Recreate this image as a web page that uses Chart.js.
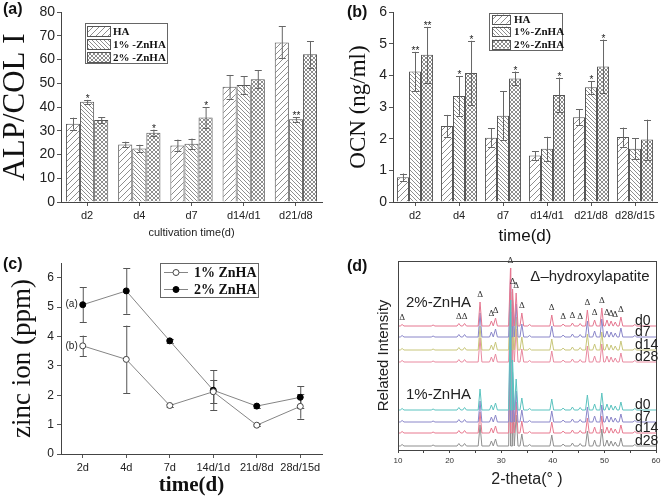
<!DOCTYPE html>
<html><head><meta charset="utf-8">
<script src="https://cdn.jsdelivr.net/npm/chart.js@4.4.0/dist/chart.umd.min.js"></script>
<style>
html,body{margin:0;padding:0;background:#fff;width:664px;height:499px;overflow:hidden}
.p{position:absolute;width:332px;height:250px}
canvas{display:block}
</style></head><body>
<div class="p" style="left:0;top:0"><canvas id="ca" width="332" height="250"></canvas></div>
<div class="p" style="left:332px;top:0"><canvas id="cb" width="332" height="250"></canvas></div>
<div class="p" style="left:0;top:250px"><canvas id="cc" width="332" height="250"></canvas></div>
<div class="p" style="left:332px;top:250px"><canvas id="cd" width="332" height="250"></canvas></div>
<script>
// ---------- (a) ALP/COL I ----------
const timeA = ['d2','d4','d7','d14/d1','d21/d8'];
const seriesA = ['HA','1% -ZnHA','2% -ZnHA'];
const alpHA = [33.0, 24.2, 23.8, 48.5, 67.2];
const alpHAErr = [2.5, 1.2, 2.5, 5.0, 6.7];
const alp1 = [42.2, 22.5, 24.5, 49.3, 34.8];
const alp1Err = [0.8, 1.6, 2.2, 3.7, 1.0];
const alp2 = [34.5, 29.2, 35.6, 51.7, 62.2];
const alp2Err = [1.2, 1.3, 4.3, 3.8, 5.6];
const alpHAStar = ['','','','',''];
const alp1Star = ['*','','','','**'];
const alp2Star = ['','*','*','',''];

// ---------- (b) OCN ----------
const timeB = ['d2','d4','d7','d14/d1','d21/d8','d28/d15'];
const seriesB = ['HA','1%-ZnHA','2%-ZnHA'];
const ocnHA = [0.78, 2.40, 2.03, 1.47, 2.68, 2.05];
const ocnHAErr = [0.12, 0.35, 0.30, 0.14, 0.25, 0.30];
const ocn1 = [4.12, 3.35, 2.72, 1.68, 3.62, 1.68];
const ocn1Err = [0.62, 0.62, 0.77, 0.38, 0.20, 0.33];
const ocn2 = [4.65, 4.07, 3.90, 3.38, 4.28, 1.97];
const ocn2Err = [0.88, 1.02, 0.22, 0.55, 0.85, 0.63];
const ocnHAStar = ['','','','','',''];
const ocn1Star = ['**','*','','','*',''];
const ocn2Star = ['**','*','*','*','*',''];

// ---------- (c) zinc ion ----------
const timeC = ['2d','4d','7d','14d/1d','21d/8d','28d/15d'];
const seriesC = ['1% ZnHA','2% ZnHA'];
const zn1 = [3.68, 3.22, 1.65, 2.12, 0.98, 1.62];
const zn1Err = [0.35, 1.15, 0.04, 0.40, 0.04, 0.42];
const zn2 = [5.08, 5.55, 3.85, 2.17, 1.63, 1.93];
const zn2Err = [0.60, 0.78, 0.08, 0.68, 0.05, 0.37];

// ---------- (d) XRD ----------
const xrdPeaks = [10.8,16.8,21.8,22.9,25.9,28.1,28.9,31.8,32.2,32.9,34.0,35.5,39.8,42.0,43.8,45.3,46.7,48.1,49.5,50.5,51.3,52.1,53.2,55.9];
const xrdH2 = [1.5,1,2.5,2.5,24,5,8,58,37,33,13,1.5,11,2,3,2.5,16,6,18,6,5,4,9,1.5];
const xrdH1 = [1.5,1,2.5,2.5,21,5,7,110,50,31,12,1.5,11,2,3,2.5,15,6,17,6,5,4,8,1.5];
const xrdMarked = [10.8,21.8,22.9,25.9,28.1,28.9,31.8,32.2,32.9,34.0,39.8,42.0,43.8,45.3,46.7,48.1,49.5,50.5,51.3,52.1,53.2];
const xrdDays = ['d0','d7','d14','d28'];
const xrdGroups = ['2%-ZnHA','1%-ZnHA'];

// ---------- helpers / styles ----------
const SANS = 'Liberation Sans', SERIF = 'Liberation Serif';
Chart.defaults.font.family = SANS;
Chart.defaults.color = '#222';

function makePattern(kind){
  const s = kind==='fwd' ? 6 : 4;
  const c = document.createElement('canvas'); c.width = s; c.height = s;
  const g = c.getContext('2d');
  g.fillStyle = '#fff'; g.fillRect(0,0,s,s);
  g.fillStyle = '#8e8e8e';
  for (let i=0;i<s;i++){
    if (kind==='fwd') g.fillRect(i, s-1-i, 1, 1);
    else if (kind==='back') g.fillRect(i, i, 1, 1);
    else { g.fillRect(i,i,1,1); g.fillRect(i,s-1-i,1,1); }
  }
  return g.createPattern(c,'repeat');
}
const patFwd = makePattern('fwd'), patBack = makePattern('back'), patCross = makePattern('cross');

const errPlugin = {
  id:'errbars',
  draw(chart,o){
    const ctx = chart.ctx, ys = chart.scales.y;
    chart.data.datasets.forEach((ds,di)=>{
      const meta = chart.getDatasetMeta(di);
      const errs = o.errs[di], stars = o.stars ? o.stars[di] : null;
      meta.data.forEach((el,i)=>{
        const v = ds.data[i], e = errs[i], x = el.x;
        const yt = ys.getPixelForValue(v+e), yb = ys.getPixelForValue(v-e);
        ctx.save();
        ctx.strokeStyle = o.color; ctx.lineWidth = 1;
        ctx.beginPath();
        ctx.moveTo(x+0.5,yt); ctx.lineTo(x+0.5,yb);
        ctx.moveTo(x-o.cap,Math.round(yt)+0.5); ctx.lineTo(x+o.cap+1,Math.round(yt)+0.5);
        ctx.moveTo(x-o.cap,Math.round(yb)+0.5); ctx.lineTo(x+o.cap+1,Math.round(yb)+0.5);
        ctx.stroke();
        if (stars && stars[i]){
          ctx.fillStyle = '#222'; ctx.font = '10px '+SANS;
          ctx.textAlign = 'center'; ctx.textBaseline = 'alphabetic';
          ctx.fillText(stars[i], x+0.5, yt+2);
        }
        ctx.restore();
      });
    });
  },
  beforeDatasetsDraw(chart,a,o){ if(o && o.errs && o.before) this.draw(chart,o); },
  afterDatasetsDraw(chart,a,o){ if(o && o.errs && !o.before) this.draw(chart,o); }
};

const boxLegend = {
  id:'boxLegend',
  afterDraw(chart,a,o){
    if(!o || !o.box) return;
    const ctx = chart.ctx, b = o.box;
    ctx.save();
    ctx.strokeStyle = '#666'; ctx.lineWidth = 1;
    ctx.strokeRect(b.x+0.5,b.y+0.5,b.w,b.h);
    chart.data.datasets.forEach((ds,i)=>{
      const ry = o.rows[i];
      if (o.kind==='bar'){
        ctx.fillStyle = ds.backgroundColor;
        ctx.fillRect(o.swX, ry-o.swH/2, o.swW, o.swH);
        ctx.strokeStyle = '#555';
        ctx.strokeRect(o.swX+0.5, Math.round(ry-o.swH/2)+0.5, o.swW, o.swH);
      } else {
        ctx.strokeStyle = ds.borderColor; ctx.lineWidth = 1;
        ctx.beginPath(); ctx.moveTo(o.swX, ry+0.5); ctx.lineTo(o.swX+o.swW, ry+0.5); ctx.stroke();
        ctx.beginPath(); ctx.arc(o.swX+o.swW/2, ry+0.5, 3, 0, Math.PI*2);
        ctx.fillStyle = ds.pointBackgroundColor; ctx.fill();
        ctx.strokeStyle = ds.pointBorderColor; ctx.stroke();
      }
      ctx.fillStyle = '#111'; ctx.font = o.font;
      ctx.textAlign = 'left'; ctx.textBaseline = 'middle';
      ctx.fillText(ds.label, o.textX, ry+1);
    });
    ctx.restore();
  }
};

const annot = {
  id:'annot',
  afterDraw(chart,a,o){
    if(!o || !o.texts) return;
    const ctx = chart.ctx;
    o.texts.forEach(t=>{
      ctx.save();
      ctx.font = t.font; ctx.fillStyle = t.color || '#111';
      ctx.textAlign = t.align || 'left'; ctx.textBaseline = 'middle';
      ctx.fillText(t.text, t.x, t.y);
      ctx.restore();
    });
  }
};

const pointLabels = {
  id:'pointLabels',
  afterDatasetsDraw(chart,a,o){
    if(!o || !o.items) return;
    const ctx = chart.ctx;
    o.items.forEach(it=>{
      const el = chart.getDatasetMeta(it.ds).data[it.i];
      ctx.save(); ctx.font = '10px '+SANS; ctx.fillStyle = '#222';
      ctx.textAlign = 'right'; ctx.textBaseline = 'middle';
      ctx.fillText(it.text, el.x-5, el.y);
      ctx.restore();
    });
  }
};

function axisGrid(){ return {display:true, drawOnChartArea:false, offset:false, drawTicks:true, tickLength:4, color:'#555'}; }
const common = {responsive:false, animation:false, devicePixelRatio:1, events:[]};

// ---------- chart (a) ----------
new Chart(document.getElementById('ca'), {
  type:'bar',
  data:{labels:timeA, datasets:[
    {label:seriesA[0], data:alpHA, backgroundColor:patFwd, borderColor:'#555', borderWidth:1},
    {label:seriesA[1], data:alp1, backgroundColor:patBack, borderColor:'#555', borderWidth:1},
    {label:seriesA[2], data:alp2, backgroundColor:patCross, borderColor:'#555', borderWidth:1}
  ]},
  options:Object.assign({}, common, {
    layout:{padding:{top:12,right:10,left:0,bottom:0}},
    datasets:{bar:{categoryPercentage:0.81, barPercentage:1}},
    scales:{
      x:{grid:axisGrid(), border:{color:'#444'}, ticks:{font:{size:11},color:'#222',padding:3},
         title:{display:true,text:'cultivation time(d)',font:{size:11},color:'#222',padding:{top:0,bottom:10}},
         afterFit:s=>{s.height=48;}},
      y:{min:0,max:80, grid:axisGrid(), border:{color:'#444'}, ticks:{stepSize:10,font:{size:14},color:'#222',padding:2},
         title:{display:true,text:'ALP/COL I',font:{family:SERIF,size:31,lineHeight:1},color:'#111',padding:{top:0,bottom:0}},
         afterFit:s=>{s.width=61;}}
    },
    plugins:{legend:{display:false}, tooltip:{enabled:false},
      errbars:{errs:[alpHAErr,alp1Err,alp2Err], stars:[alpHAStar,alp1Star,alp2Star], color:'#666', cap:3},
      boxLegend:{kind:'bar', box:{x:85,y:23,w:82,h:40}, rows:[31,44,57], swX:87, swW:23, swH:10, textX:113, font:'bold 11px '+SERIF},
      annot:{texts:[{text:'(a)',x:3,y:10,font:'bold 16px '+SANS}]}
    }
  }),
  plugins:[errPlugin, boxLegend, annot]
});

// ---------- chart (b) ----------
new Chart(document.getElementById('cb'), {
  type:'bar',
  data:{labels:timeB, datasets:[
    {label:seriesB[0], data:ocnHA, backgroundColor:patFwd, borderColor:'#555', borderWidth:1},
    {label:seriesB[1], data:ocn1, backgroundColor:patBack, borderColor:'#555', borderWidth:1},
    {label:seriesB[2], data:ocn2, backgroundColor:patCross, borderColor:'#555', borderWidth:1}
  ]},
  options:Object.assign({}, common, {
    layout:{padding:{top:12,right:7,left:0,bottom:0}},
    datasets:{bar:{categoryPercentage:0.82, barPercentage:1}},
    scales:{
      x:{grid:axisGrid(), border:{color:'#444'}, ticks:{font:{size:11},color:'#222',padding:3,autoSkip:false,maxRotation:0},
         title:{display:true,text:'time(d)',font:{size:17},color:'#111',padding:{top:0,bottom:3}},
         afterFit:s=>{s.height=48;}},
      y:{min:0,max:6, grid:axisGrid(), border:{color:'#444'}, ticks:{stepSize:1,font:{size:14},color:'#222',padding:2},
         title:{display:true,text:'OCN (ng/ml)',font:{family:SERIF,size:23,lineHeight:1},color:'#111',padding:{top:15,bottom:0}},
         afterFit:s=>{s.width=61;}}
    },
    plugins:{legend:{display:false}, tooltip:{enabled:false},
      errbars:{errs:[ocnHAErr,ocn1Err,ocn2Err], stars:[ocnHAStar,ocn1Star,ocn2Star], color:'#666', cap:3},
      boxLegend:{kind:'bar', box:{x:157,y:13,w:73,h:37}, rows:[19,31,44], swX:160, swW:18, swH:9, textX:182, font:'bold 11px '+SERIF},
      annot:{texts:[{text:'(b)',x:15,y:13,font:'bold 16px '+SANS}]}
    }
  }),
  plugins:[errPlugin, boxLegend, annot]
});

// ---------- chart (c) ----------
new Chart(document.getElementById('cc'), {
  type:'line',
  data:{labels:timeC, datasets:[
    {label:seriesC[0], data:zn1, borderColor:'#858585', borderWidth:1, pointRadius:3, pointBackgroundColor:'#fff', pointBorderColor:'#444', pointBorderWidth:1, tension:0},
    {label:seriesC[1], data:zn2, borderColor:'#858585', borderWidth:1, pointRadius:3, pointBackgroundColor:'#000', pointBorderColor:'#000', pointBorderWidth:1, tension:0}
  ]},
  options:Object.assign({}, common, {
    layout:{padding:{top:13,right:10,left:0,bottom:0}},
    scales:{
      x:{offset:true, grid:axisGrid(), border:{color:'#444'}, ticks:{font:{size:11},color:'#222',padding:3,autoSkip:false,maxRotation:0},
         title:{display:true,text:'time(d)',font:{family:SERIF,size:21,weight:'bold'},color:'#111',padding:{top:0,bottom:2}},
         afterFit:s=>{s.height=46;}},
      y:{min:0,max:6.5, grid:axisGrid(), border:{color:'#444'}, ticks:{stepSize:1,font:{size:12},color:'#222',padding:3},
         afterBuildTicks:s=>{s.ticks = s.ticks.filter(t=>Number.isInteger(t.value));},
         title:{display:true,text:'zinc ion (ppm)',font:{family:SERIF,size:27,lineHeight:1},color:'#111',padding:{top:9,bottom:0}},
         afterFit:s=>{s.width=61;}}
    },
    plugins:{legend:{display:false}, tooltip:{enabled:false},
      errbars:{errs:[zn1Err,zn2Err], color:'#555', cap:3, before:true},
      boxLegend:{kind:'line', box:{x:160,y:13,w:98,h:34}, rows:[22,39], swX:164, swW:24, textX:194, font:'bold 14px '+SERIF},
      pointLabels:{items:[{ds:1,i:0,text:'(a)'},{ds:0,i:0,text:'(b)'}]},
      annot:{texts:[{text:'(c)',x:3,y:15,font:'bold 16px '+SANS}]}
    }
  }),
  plugins:[errPlugin, boxLegend, pointLabels, annot]
});

// ---------- chart (d) ----------
const traceBase2 = [124,113,100,88];
const traceBase1 = [40,28,17,4];
const traceCol2 = ['#e57790','#8a86c9','#c8c67a','#e98aa0'];
const traceCol1 = ['#5bc3bf','#8a86c9','#e8798f','#8f8f8f'];
function trace(heights, base){
  const pts = [{x:10,y:base}];
  xrdPeaks.forEach((p,i)=>{ pts.push({x:p-0.36,y:base},{x:p,y:base+heights[i]},{x:p+0.36,y:base}); });
  pts.push({x:60,y:base});
  pts.sort((a,b)=>a.x-b.x);
  return pts;
}
const dsD = [];
xrdDays.forEach((d,k)=>dsD.push({label:xrdGroups[1]+' '+d, data:trace(xrdH1,traceBase1[k]), borderColor:traceCol1[k], borderWidth:1, pointRadius:0, tension:0}));
xrdDays.forEach((d,k)=>dsD.push({label:xrdGroups[0]+' '+d, data:trace(xrdH2,traceBase2[k]), borderColor:traceCol2[k], borderWidth:1, pointRadius:0, tension:0}));

const xrdDeco = {
  id:'xrdDeco',
  afterDatasetsDraw(chart){
    const ctx = chart.ctx, xs = chart.scales.x, ys = chart.scales.y, ca = chart.chartArea;
    ctx.save();
    ctx.strokeStyle = '#444'; ctx.lineWidth = 1;
    ctx.strokeRect(Math.round(ca.left)+0.5, Math.round(ca.top)+0.5, Math.round(ca.right-ca.left), Math.round(ca.bottom-ca.top));
    ctx.fillStyle = '#333'; ctx.font = '9px '+SERIF; ctx.textAlign = 'center'; ctx.textBaseline = 'middle';
    xrdMarked.forEach(p=>{
      const i = xrdPeaks.indexOf(p);
      ctx.fillText('Δ', xs.getPixelForValue(p), ys.getPixelForValue(traceBase2[0]+xrdH2[i]+7));
    });
    ctx.fillStyle = '#222'; ctx.font = '14px '+SANS; ctx.textAlign = 'left';
    xrdDays.forEach((d,k)=>{
      ctx.fillText(d, 303, ys.getPixelForValue(traceBase2[k])-5);
      ctx.fillText(d, 303, ys.getPixelForValue(traceBase1[k])-5);
    });
    ctx.font = '15px '+SANS;
    ctx.fillText(xrdGroups[0], 74, 53);
    ctx.fillText(xrdGroups[1], 74, 145);
    ctx.textAlign = 'center';
    ctx.fillText('Δ–hydroxylapatite', 258, 27);
    ctx.restore();
  }
};

new Chart(document.getElementById('cd'), {
  type:'line',
  data:{datasets:dsD},
  options:Object.assign({}, common, {
    parsing:true,
    layout:{padding:{top:11,right:8,left:0,bottom:0}},
    scales:{
      x:{type:'linear', min:10, max:60, grid:{display:true,drawOnChartArea:false,tickLength:3,color:'#444'}, border:{color:'#444'},
         ticks:{stepSize:5, autoSkip:false, maxRotation:0, font:{size:8}, color:'#333', padding:3, callback:v=> (v%10===0 ? v : '')},
         title:{display:true,text:'2-theta(° )',font:{size:16},color:'#222',padding:{top:0,bottom:11}},
         afterFit:s=>{s.height=50;}},
      y:{min:0,max:189, ticks:{display:false}, grid:{display:false}, border:{display:false},
         title:{display:true,text:'Related Intensity',font:{size:15,lineHeight:1},color:'#222',padding:{top:44,bottom:0}},
         afterFit:s=>{s.width=66;}}
    },
    plugins:{legend:{display:false}, tooltip:{enabled:false},
      annot:{texts:[{text:'(d)',x:15,y:17,font:'bold 16px '+SANS}]}
    }
  }),
  plugins:[xrdDeco, annot]
});
</script>
</body></html>
